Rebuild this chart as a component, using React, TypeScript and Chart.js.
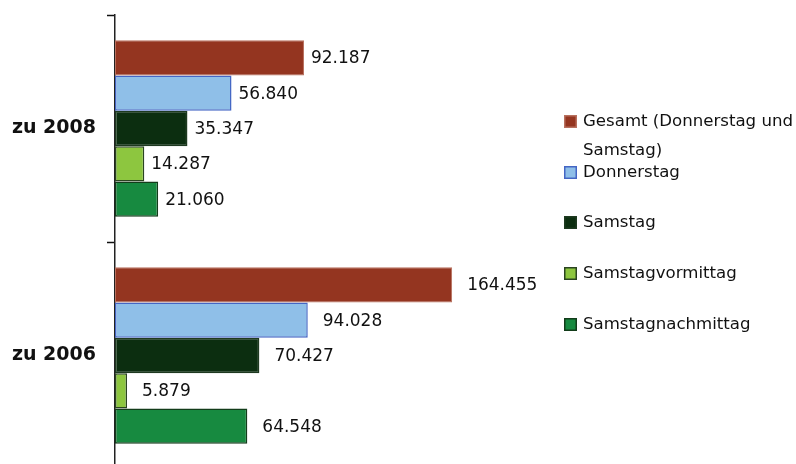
import React, { useEffect, useRef } from "react";
import { Chart, registerables } from "chart.js";

Chart.register(...registerables);

// ---- data ----
const categories = ["zu 2008", "zu 2006"];
const seriesNames = [
  "Gesamt (Donnerstag und Samstag)",
  "Donnerstag",
  "Samstag",
  "Samstagvormittag",
  "Samstagnachmittag",
];
const gesamt = [92187, 164455];
const donnerstag = [56840, 94028];
const samstag = [35347, 70427];
const samstagVormittag = [14287, 5879];
const samstagNachmittag = [21060, 64548];
const seriesValues = [gesamt, donnerstag, samstag, samstagVormittag, samstagNachmittag];

// ---- styles ----
const fills = ["#943520", "#8fbfe8", "#0c2e10", "#8dc63f", "#178a40"];
const borders = ["#b8705e", "#4466c4", "#1e3a20", "#2a4420", "#123c1a"];
const FONT = '"DejaVu Sans", sans-serif';
const labelGap = [7, 15];

function fmt(v: number): string {
  const th = Math.floor(v / 1000);
  const rest = String(v % 1000).padStart(3, "0");
  return th > 0 ? `${th}.${rest}` : String(v);
}

function wrap(ctx: CanvasRenderingContext2D, text: string, maxW: number): string[] {
  const words = text.split(" ");
  const lines: string[] = [];
  let cur = "";
  for (const w of words) {
    const test = cur ? cur + " " + w : w;
    if (ctx.measureText(test).width > maxW && cur) {
      lines.push(cur);
      cur = w;
    } else cur = test;
  }
  if (cur) lines.push(cur);
  return lines;
}

const valueLabels = {
  id: "valueLabels",
  afterDatasetsDraw(chart: any) {
    const ctx = chart.ctx;
    ctx.save();
    ctx.font = `17px ${FONT}`;
    ctx.fillStyle = "#111";
    ctx.textAlign = "left";
    ctx.textBaseline = "middle";
    chart.data.datasets.forEach((ds: any, i: number) => {
      const meta = chart.getDatasetMeta(i);
      meta.data.forEach((el: any, j: number) => {
        ctx.fillText(fmt(ds.data[j]), el.x + labelGap[j], el.y + 1);
      });
    });
    ctx.restore();
  },
};

const legendPlugin = {
  id: "customLegend",
  afterDraw(chart: any) {
    const ctx = chart.ctx;
    ctx.save();
    ctx.font = `16.6px ${FONT}`;
    ctx.textBaseline = "middle";
    ctx.textAlign = "left";
    const top = 121;
    const step = 50.7;
    seriesNames.forEach((name, i) => {
      const cy = Math.round(top + i * step);
      ctx.fillStyle = fills[i];
      ctx.fillRect(564, cy - 6, 13, 13);
      ctx.strokeStyle = borders[i];
      ctx.lineWidth = 1.5;
      ctx.strokeRect(564.75, cy - 5.25, 11.5, 11.5);
      ctx.fillStyle = "#111";
      const lines = wrap(ctx, name, 235);
      lines.forEach((ln, k) => ctx.fillText(ln, 583, cy + 1 + k * 29));
    });
    ctx.restore();
  },
};

export default function App() {
  const ref = useRef<HTMLCanvasElement | null>(null);
  useEffect(() => {
    if (!ref.current) return;
    const chart = new Chart(ref.current, {
      type: "bar",
      data: {
        labels: categories,
        datasets: seriesNames.map((name, i) => ({
          label: name,
          data: seriesValues[i],
          backgroundColor: fills[i],
          borderColor: borders[i],
          borderWidth: i === 0 ? 1 : 1.5,
          borderSkipped: false,
          categoryPercentage: 0.778,
          barPercentage: 1,
        })),
      },
      options: {
        indexAxis: "y",
        responsive: false,
        animation: false,
        devicePixelRatio: 1,
        layout: { padding: { top: 15, bottom: 3, left: 0, right: 271 } },
        plugins: {
          legend: { display: false },
          tooltip: { enabled: false },
        },
        scales: {
          x: { display: false, min: 0, max: 200000 },
          y: {
            type: "category",
            offset: true,
            grid: {
              display: true,
              offset: true,
              drawOnChartArea: false,
              drawTicks: true,
              tickLength: 8,
              color: "#111",
              tickWidth: 1.5,
            },
            border: { display: true, color: "#222", width: 1.5 },
            ticks: {
              font: { family: FONT, size: 19, weight: "bold" },
              color: "#111",
              padding: 11,
            },
            afterFit: (s: any) => {
              s.width = 115;
              s.paddingTop = 0;
              s.paddingBottom = 0;
            },
          },
        },
      } as any,
      plugins: [valueLabels, legendPlugin],
    });
    return () => chart.destroy();
  }, []);

  return (
    <div
      style={{
        position: "absolute",
        left: 0,
        top: 0,
        width: 796,
        height: 464,
        overflow: "hidden",
        background: "#fff",
      }}
    >
      <canvas ref={ref} width={796} height={472} style={{ display: "block" }} />
    </div>
  );
}
